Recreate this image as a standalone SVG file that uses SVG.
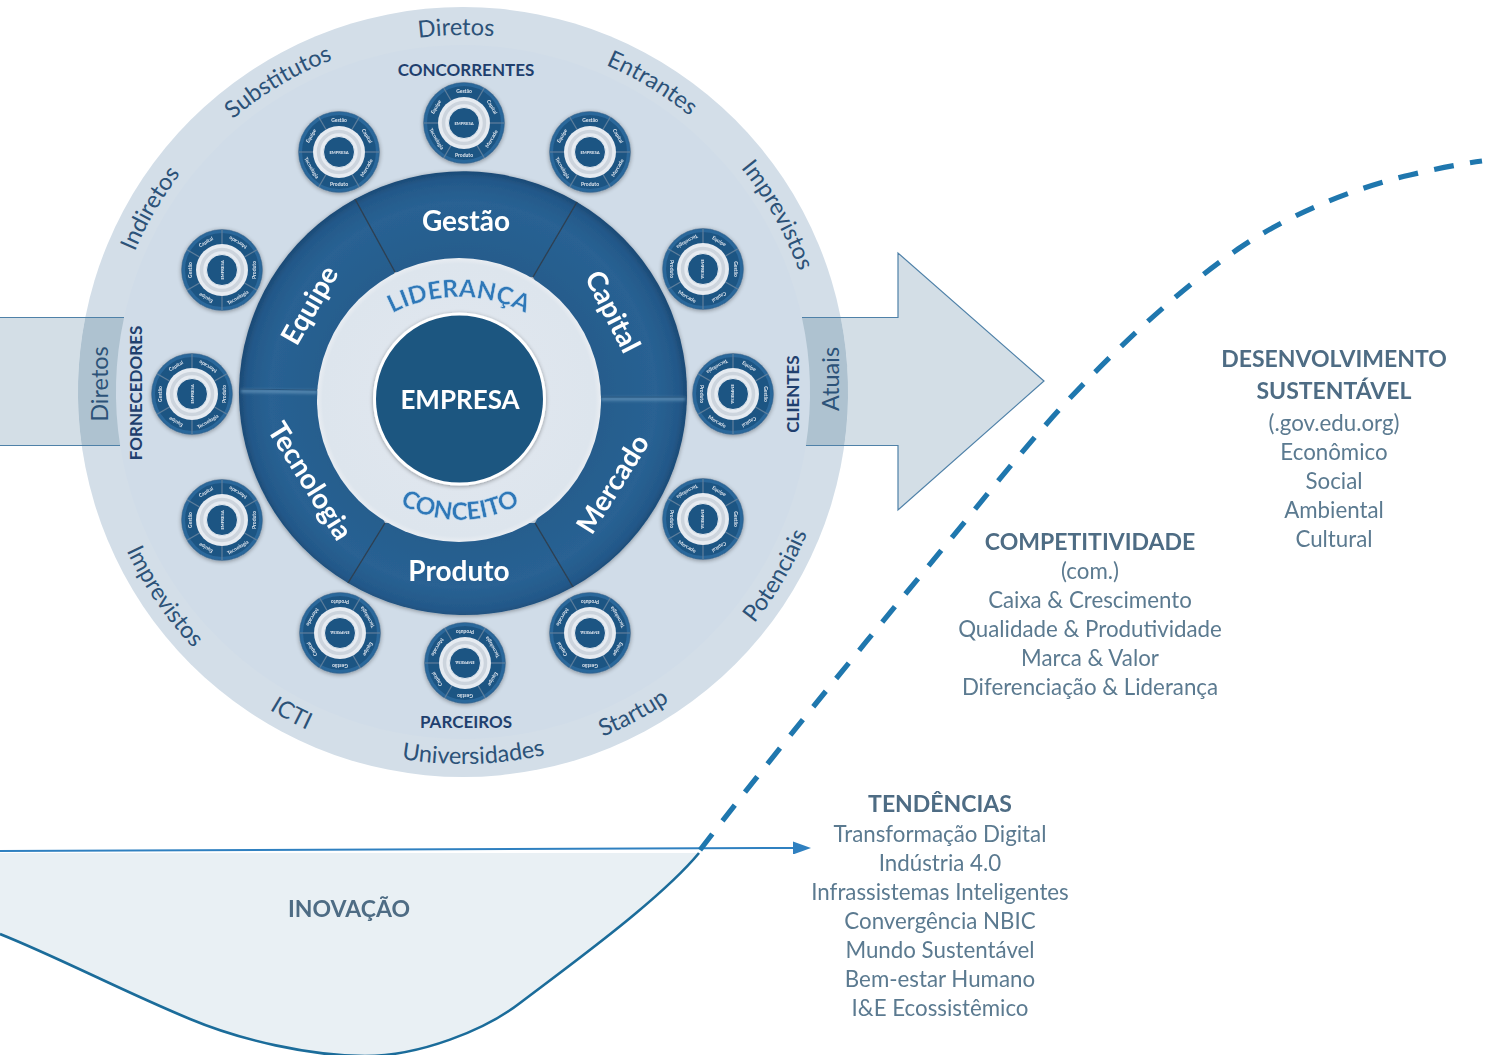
<svg xmlns="http://www.w3.org/2000/svg" width="1493" height="1055" viewBox="0 0 1493 1055">
<style>
text{font-family:"Lato","Carlito","Open Sans",sans-serif;text-anchor:middle}
.ring{font-size:23.5px;fill:#2c5278}
.side{font-size:17px;font-weight:700;fill:#1f3f6e}
.seg{font-size:28px;font-weight:700;fill:#fff}
.hd{font-size:23px;font-weight:700;fill:#4e6c84}
.bd{font-size:22.3px;fill:#5b7a90}
.mt{font-size:5px;font-weight:700;fill:#dfe7ef}
.curve{font-size:24.5px;font-weight:900;fill:#2f78b8;stroke:#cfe0ef;stroke-width:.5px}
.div{stroke:#2c3e50;stroke-width:1.4;fill:none}
.dia{fill:url(#segG)}
</style>
<defs>
<radialGradient id="segG" gradientUnits="userSpaceOnUse" cx="463" cy="395" r="224">
<stop offset="0.6" stop-color="#255c8c"/><stop offset="0.86" stop-color="#296293"/><stop offset="0.965" stop-color="#235889"/><stop offset="1" stop-color="#1c4a75"/>
</radialGradient>
<radialGradient id="ringG"><stop offset="0.6" stop-color="#dfe6ee"/><stop offset="0.96" stop-color="#dde5ed"/><stop offset="1" stop-color="#e9edf2"/></radialGradient>
<filter id="sh" x="-10%" y="-10%" width="120%" height="120%"><feGaussianBlur in="SourceAlpha" stdDeviation="2"/><feOffset dy="1"/><feComponentTransfer><feFuncA type="linear" slope=".35"/></feComponentTransfer><feMerge><feMergeNode/><feMergeNode in="SourceGraphic"/></feMerge></filter>
<filter id="bl" filterUnits="userSpaceOnUse" x="0" y="0" width="1493" height="1055"><feGaussianBlur stdDeviation="1.6"/></filter>
<path id="arcT" d="M106,392 A357,357 0 0 1 820,392"/>
<path id="arcB" d="M91,392 A372,372 0 0 0 835,392"/>
<path id="arcL" d="M330,377 A144,144 0 0 1 588,377"/>
<path id="arcC" d="M338,398 A122,122 0 0 0 582,398"/>
<marker id="ah" markerUnits="userSpaceOnUse" markerWidth="18" markerHeight="13" refX="0" refY="6.5" orient="auto"><path d="M0,0 L18,6.5 L0,13 Z" fill="#2f80c0"/></marker>
<g id="mini">
<circle r="40.5" fill="#1f5583" stroke="#5d7f9e" stroke-width=".8"/>
<circle r="38.5" fill="none" stroke="#2c689b" stroke-width="3"/>
<g stroke="#5f7f9c" stroke-width="1.2"><path d="M13,-22.5 L20.3,-35"/><path d="M-13,-22.5 L-20.3,-35"/><path d="M26,0 L40.5,0"/><path d="M-26,0 L-40.5,0"/><path d="M13,22.5 L20.3,35"/><path d="M-13,22.5 L-20.3,35"/></g>
<circle r="26" fill="#e6ebf1"/>
<circle r="20.5" fill="none" stroke="#ccd4dd" stroke-width="3.5"/>
<circle r="15.5" fill="#1f5583" stroke="#fff" stroke-width=".8"/>
<text class="mt" y="1.6" style="font-size:4.2px">EMPRESA</text>
<text class="mt" y="-30.5">Gestão</text>
<text class="mt" transform="rotate(60) translate(0,-30.5)">Capital</text>
<text class="mt" transform="rotate(120) translate(0,-33.5) rotate(180)">Mercado</text>
<text class="mt" y="33.5">Produto</text>
<text class="mt" transform="rotate(-120) translate(0,-33.5) rotate(180)">Tecnologia</text>
<text class="mt" transform="rotate(-60) translate(0,-30.5)">Equipe</text>
</g>
</defs>

<rect width="1493" height="1055" fill="#fff"/>

<g id="innovation-area">
<path d="M0,934 C60,958 120,990 190,1019 C240,1040 310,1056 365,1056 C420,1056 485,1030 520,1003 C570,965 660,900 699,853 L0,853 Z" fill="#e9f0f4"/>
</g>

<g id="outer-disc"><circle cx="463" cy="392" r="385" fill="#d3dee8"/><circle cx="463" cy="392" r="347" fill="#d0dce8"/></g>

<g id="arrow">
<path d="M0,318 H85.2 A385,385 0 0 0 81.8,446 H0 Z" fill="#d3dee6"/>
<path d="M840.8,318 H898 V253 L1044,381 L898,510 V446 H844.2 A385,385 0 0 0 840.8,318 Z" fill="#d3dee6"/>
<path d="M85.2,318 L124,318 A347,347 0 0 0 120.2,446 L81.8,446 A385,385 0 0 1 85.2,318 Z" fill="#aec2d0"/>
<path d="M802,318 L840.8,318 A385,385 0 0 1 844.2,446 L805.8,446 A347,347 0 0 0 802,318 Z" fill="#aec2d0"/>
<path d="M0,317.5 H124 M0,445.5 H120 M802,317.5 H898 V253 L1044,381 L898,510 V445.5 H806" fill="none" stroke="#4f81a8" stroke-width="1.2"/>
</g>

<g id="ring-labels">
<text class="ring"><textPath href="#arcT" startOffset="49.4%">Diretos</textPath></text>
<text class="ring"><textPath href="#arcT" startOffset="32.9%">Substitutos</textPath></text>
<text class="ring"><textPath href="#arcT" startOffset="16.9%">Indiretos</textPath></text>
<text class="ring"><textPath href="#arcT" startOffset="67.5%">Entrantes</textPath></text>
<text class="ring"><textPath href="#arcT" startOffset="83.7%">Imprevistos</textPath></text>
<text class="ring"><textPath href="#arcB" startOffset="19.1%">Imprevistos</textPath></text>
<text class="ring"><textPath href="#arcB" startOffset="34.4%">ICTI</textPath></text>
<text class="ring"><textPath href="#arcB" startOffset="50.9%">Universidades</textPath></text>
<text class="ring"><textPath href="#arcB" startOffset="65.5%">Startup</textPath></text>
<text class="ring"><textPath href="#arcB" startOffset="83.1%">Potenciais</textPath></text>
<text class="ring" transform="translate(108,384) rotate(-90)">Diretos</text>
<text class="ring" transform="translate(839,379) rotate(-90)">Atuais</text>
<text class="side" x="466" y="76">CONCORRENTES</text>
<text class="side" x="466" y="728">PARCEIROS</text>
<text class="side" transform="translate(142,393) rotate(-90)">FORNECEDORES</text>
<text class="side" transform="translate(799,394) rotate(-90)">CLIENTES</text>
</g>

<g id="mini-wheels" filter="url(#sh)">
<use id="mini-1" href="#mini" transform="translate(464,123)"/>
<use id="mini-2" href="#mini" transform="translate(339,152)"/>
<use id="mini-3" href="#mini" transform="translate(590,152)"/>
<use id="mini-4" href="#mini" transform="translate(703,269) rotate(90)"/>
<use id="mini-5" href="#mini" transform="translate(733,394) rotate(90)"/>
<use id="mini-6" href="#mini" transform="translate(703,519) rotate(90)"/>
<use id="mini-7" href="#mini" transform="translate(590,633) rotate(180)"/>
<use id="mini-8" href="#mini" transform="translate(465,663) rotate(180)"/>
<use id="mini-9" href="#mini" transform="translate(340,633) rotate(180)"/>
<use id="mini-10" href="#mini" transform="translate(222,270) rotate(-90)"/>
<use id="mini-11" href="#mini" transform="translate(192,394) rotate(-90)"/>
<use id="mini-12" href="#mini" transform="translate(222,520) rotate(-90)"/>
</g>

<g id="wheel" filter="url(#sh)">
<g id="seg-gestao"><path class="dia" d="M355,199 A224,222 0 0 1 577,202 L533,277 L395,272 Z"/></g>
<g id="seg-capital"><path class="dia" d="M577,202 A224,222 0 0 1 687,397 L601,397 L533,277 Z"/></g>
<g id="seg-mercado"><path class="dia" d="M687,397 A224,222 0 0 1 573,587 L535,523 L601,397 Z"/></g>
<g id="seg-produto"><path class="dia" d="M573,587 A224,222 0 0 1 348,583 L385,523 L535,523 Z"/></g>
<g id="seg-tecnologia"><path class="dia" d="M348,583 A224,222 0 0 1 239,389 L317,390 L385,523 Z"/></g>
<g id="seg-equipe"><path class="dia" d="M239,389 A224,222 0 0 1 355,199 L395,272 L317,390 Z"/></g>
</g>
<g id="wheel-dividers">
<path class="div" d="M355,199 L395,272"/><path class="div" d="M577,202 L533,277"/>
<path class="div" d="M348,583 L385,523"/><path class="div" d="M573,587 L535,523"/>
<path d="M241,391 L317,392" stroke="#5f8fb6" stroke-width="3" filter="url(#bl)"/><path d="M685,399 L601,399" stroke="#5f8fb6" stroke-width="3" filter="url(#bl)"/>
<path d="M239,389 L317,390" stroke="#28567f" stroke-width="1"/><path d="M687,397 L601,397" stroke="#28567f" stroke-width="1"/>
</g>

<g id="ring"><circle cx="459" cy="400" r="142" fill="url(#ringG)"/></g>
<g id="empresa"><circle cx="459.5" cy="399" r="85" fill="#1f5680" stroke="#fff" stroke-width="3" filter="url(#sh)"/><text x="460" y="409" font-size="26" font-weight="700" fill="#fff">EMPRESA</text></g>

<g id="wheel-labels">
<text class="seg" x="466" y="231">Gestão</text>
<text class="seg" transform="translate(604,316) rotate(63)">Capital</text>
<text class="seg" transform="translate(621,489) rotate(-58)">Mercado</text>
<text class="seg" x="459" y="581">Produto</text>
<text class="seg" transform="translate(302,486) rotate(58)">Tecnologia</text>
<text class="seg" transform="translate(318,310) rotate(-60)">Equipe</text>
<text class="curve"><textPath href="#arcL" startOffset="50%">LIDERANÇA</textPath></text>
<text class="curve"><textPath href="#arcC" startOffset="50%">CONCEITO</textPath></text>
</g>

<g id="connectors">
<path d="M0,934 C60,958 120,990 190,1019 C240,1040 310,1056 365,1056 C420,1056 485,1030 520,1003 C570,965 660,900 699,853" fill="none" stroke="#1b6c9a" stroke-width="2.6"/>
<path d="M0,851 L793,848" fill="none" stroke="#2f80c0" stroke-width="2" marker-end="url(#ah)"/>
<path d="M700,850 C790,733 880,625 972,513 C1005,472 1040,430 1070,398 C1110,356 1170,296 1238,249 C1280,220 1345,190 1410,175 C1435,169 1460,164 1482,161" fill="none" stroke="#1f77ae" stroke-width="5.2" stroke-dasharray="20 16.5"/>
</g>

<g id="inovacao"><text class="hd" x="349" y="917">INOVAÇÃO</text></g>
<g id="desenvolvimento">
<text class="hd" x="1334" y="367">DESENVOLVIMENTO</text><text class="hd" x="1334" y="399">SUSTENTÁVEL</text>
<text class="bd" x="1334" y="431">(.gov.edu.org)</text><text class="bd" x="1334" y="460">Econômico</text><text class="bd" x="1334" y="489">Social</text><text class="bd" x="1334" y="518">Ambiental</text><text class="bd" x="1334" y="547">Cultural</text>
</g>
<g id="competitividade">
<text class="hd" x="1090" y="550">COMPETITIVIDADE</text>
<text class="bd" x="1090" y="579">(com.)</text><text class="bd" x="1090" y="608">Caixa &amp; Crescimento</text><text class="bd" x="1090" y="637">Qualidade &amp; Produtividade</text><text class="bd" x="1090" y="666">Marca &amp; Valor</text><text class="bd" x="1090" y="695">Diferenciação &amp; Liderança</text>
</g>
<g id="tendencias">
<text class="hd" x="940" y="812">TENDÊNCIAS</text>
<text class="bd" x="940" y="842">Transformação Digital</text><text class="bd" x="940" y="871">Indústria 4.0</text><text class="bd" x="940" y="900">Infrassistemas Inteligentes</text><text class="bd" x="940" y="929">Convergência NBIC</text><text class="bd" x="940" y="958">Mundo Sustentável</text><text class="bd" x="940" y="987">Bem-estar Humano</text><text class="bd" x="940" y="1016">I&amp;E Ecossistêmico</text>
</g>
</svg>
